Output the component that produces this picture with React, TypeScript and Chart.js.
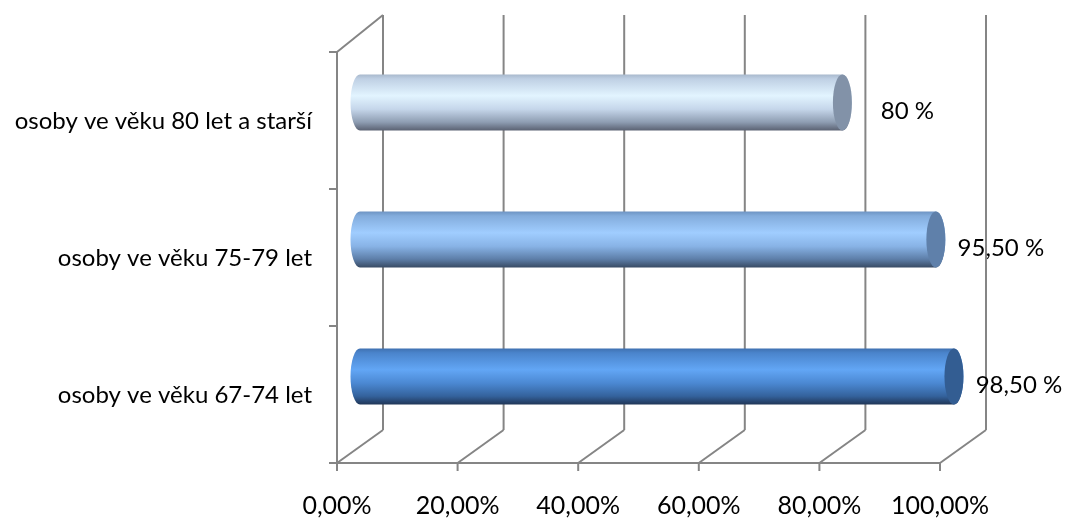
import React, { useEffect, useRef } from "react";
import { Chart, registerables } from "chart.js";

Chart.register(...registerables);

const categories = [
  "osoby ve věku 80 let a starší",
  "osoby ve věku 75-79 let",
  "osoby ve věku 67-74 let",
];
const values = [80, 95.5, 98.5];
const valueLabels = ["80 %", "95,50 %", "98,50 %"];
const xTicks = [0, 20, 40, 60, 80, 100];
const xTickLabels = ["0,00%", "20,00%", "40,00%", "60,00%", "80,00%", "100,00%"];

// cylinder shading per bar: [stop, color]
const barGradients: [number, string][][] = [
  [[0, "#a8b8cc"], [0.08, "#bfd0e4"], [0.38, "#e2f4ff"], [0.62, "#c5d6ea"], [0.85, "#8e9db2"], [1, "#5a6172"]],
  [[0, "#6d93c2"], [0.08, "#83acdc"], [0.38, "#a0cdff"], [0.62, "#88b3e6"], [0.85, "#5d7ea8"], [1, "#384a63"]],
  [[0, "#3f70b0"], [0.08, "#4a84cc"], [0.38, "#62a6f5"], [0.62, "#4b88d2"], [0.85, "#34629c"], [1, "#1f3556"]],
];
const capColors = ["#8292a8", "#5f80aa", "#335d92"];

const FONT = "Lato, 'Open Sans', sans-serif";
const GRID = "#858585";
const DX = 23; // depth offset of bars
const DY = -18;
const BX = 46; // back wall offset
const BY_TOP = -37;
const BY_BOT = -33;

const plugin3d = {
  id: "excel3d",
  beforeDatasetsDraw(chart: any) {
    const { ctx, chartArea, scales } = chart;
    const x = scales.x;
    const top = chartArea.top;
    const bottom = chartArea.bottom;
    const x0 = x.getPixelForValue(0);
    const x1 = x.getPixelForValue(100);
    ctx.save();
    ctx.strokeStyle = GRID;
    ctx.lineWidth = 2;
    ctx.lineCap = "butt";
    const line = (a: number, b: number, c: number, d: number) => {
      ctx.beginPath();
      ctx.moveTo(a, b);
      ctx.lineTo(c, d);
      ctx.stroke();
    };
    xTicks.forEach((v) => {
      const px = x.getPixelForValue(v);
      line(px + BX, top + BY_TOP, px + BX, bottom + BY_BOT);
      line(px, bottom, px + BX, bottom + BY_BOT);
      line(px, bottom, px, bottom + 8);
    });
    // left wall
    line(x0, top, x0, bottom);
    line(x0, top, x0 + BX, top + BY_TOP);
    // floor front edge
    line(x0, bottom, x1, bottom);
    // category boundary ticks
    const n = categories.length;
    const step = (bottom - top) / n;
    for (let i = 0; i <= n; i++) {
      const py = top + i * step;
      line(x0 - 8, py, x0, py);
    }
    ctx.restore();
  },
  afterDatasetsDraw(chart: any) {
    const { ctx } = chart;
    const meta = chart.getDatasetMeta(0);
    ctx.save();
    meta.data.forEach((el: any, i: number) => {
      const p = el.getProps(["x", "y", "base", "height"], true);
      const xs = p.base + DX;
      const xe = p.x + DX;
      const cy = p.y + DY;
      const ry = p.height / 2;
      const rx = 9.5;
      const g = ctx.createLinearGradient(0, cy - ry, 0, cy + ry);
      barGradients[i].forEach(([s, c]) => g.addColorStop(s, c));
      ctx.fillStyle = g;
      ctx.beginPath();
      ctx.moveTo(xs, cy - ry);
      ctx.lineTo(xe, cy - ry);
      ctx.ellipse(xe, cy, rx, ry, 0, -Math.PI / 2, Math.PI / 2, false);
      ctx.lineTo(xs, cy + ry);
      ctx.ellipse(xs, cy, rx, ry, 0, Math.PI / 2, Math.PI * 1.5, false);
      ctx.closePath();
      ctx.fill();
      // end cap
      ctx.fillStyle = capColors[i];
      ctx.beginPath();
      ctx.ellipse(xe, cy, rx, ry, 0, 0, Math.PI * 2);
      ctx.fill();
    });
    ctx.restore();
  },
  afterDraw(chart: any) {
    const { ctx, chartArea, scales } = chart;
    const x = scales.x;
    const y = scales.y;
    ctx.save();
    ctx.fillStyle = "#000000";
    // category labels
    ctx.font = `24px ${FONT}`;
    ctx.textAlign = "right";
    ctx.textBaseline = "middle";
    categories.forEach((c, i) => {
      ctx.fillText(c, chartArea.left - 25, y.getPixelForValue(i) + 1);
    });
    // x tick labels
    ctx.font = `25px ${FONT}`;
    ctx.textAlign = "center";
    xTicks.forEach((v, i) => {
      ctx.fillText(xTickLabels[i], x.getPixelForValue(v), chartArea.bottom + 43);
    });
    // value labels
    ctx.font = `24px ${FONT}`;
    const meta = chart.getDatasetMeta(0);
    meta.data.forEach((el: any, i: number) => {
      const p = el.getProps(["x", "y"], true);
      ctx.fillText(valueLabels[i], p.x + 88, p.y - 9);
    });
    ctx.restore();
  },
};

export default function App() {
  const ref = useRef<HTMLCanvasElement | null>(null);
  useEffect(() => {
    if (!ref.current) return;
    const chart = new Chart(ref.current, {
      type: "bar",
      data: {
        labels: categories,
        datasets: [
          {
            data: values,
            backgroundColor: "rgba(0,0,0,0)",
            borderWidth: 0,
            barPercentage: 0.41,
            categoryPercentage: 1,
          },
        ],
      },
      options: {
        indexAxis: "y",
        responsive: false,
        animation: false,
        events: [],
        layout: { padding: { left: 337, right: 127, top: 52, bottom: 55 } },
        plugins: { legend: { display: false }, tooltip: { enabled: false } },
        scales: {
          x: { display: false, min: 0, max: 100 },
          y: { display: false },
        },
      },
      plugins: [plugin3d],
    });
    return () => chart.destroy();
  }, []);
  return (
    <div style={{ position: "absolute", left: 0, top: 0, width: 1067, height: 518, background: "#fff" }}>
      <canvas ref={ref} width={1067} height={518} />
    </div>
  );
}
